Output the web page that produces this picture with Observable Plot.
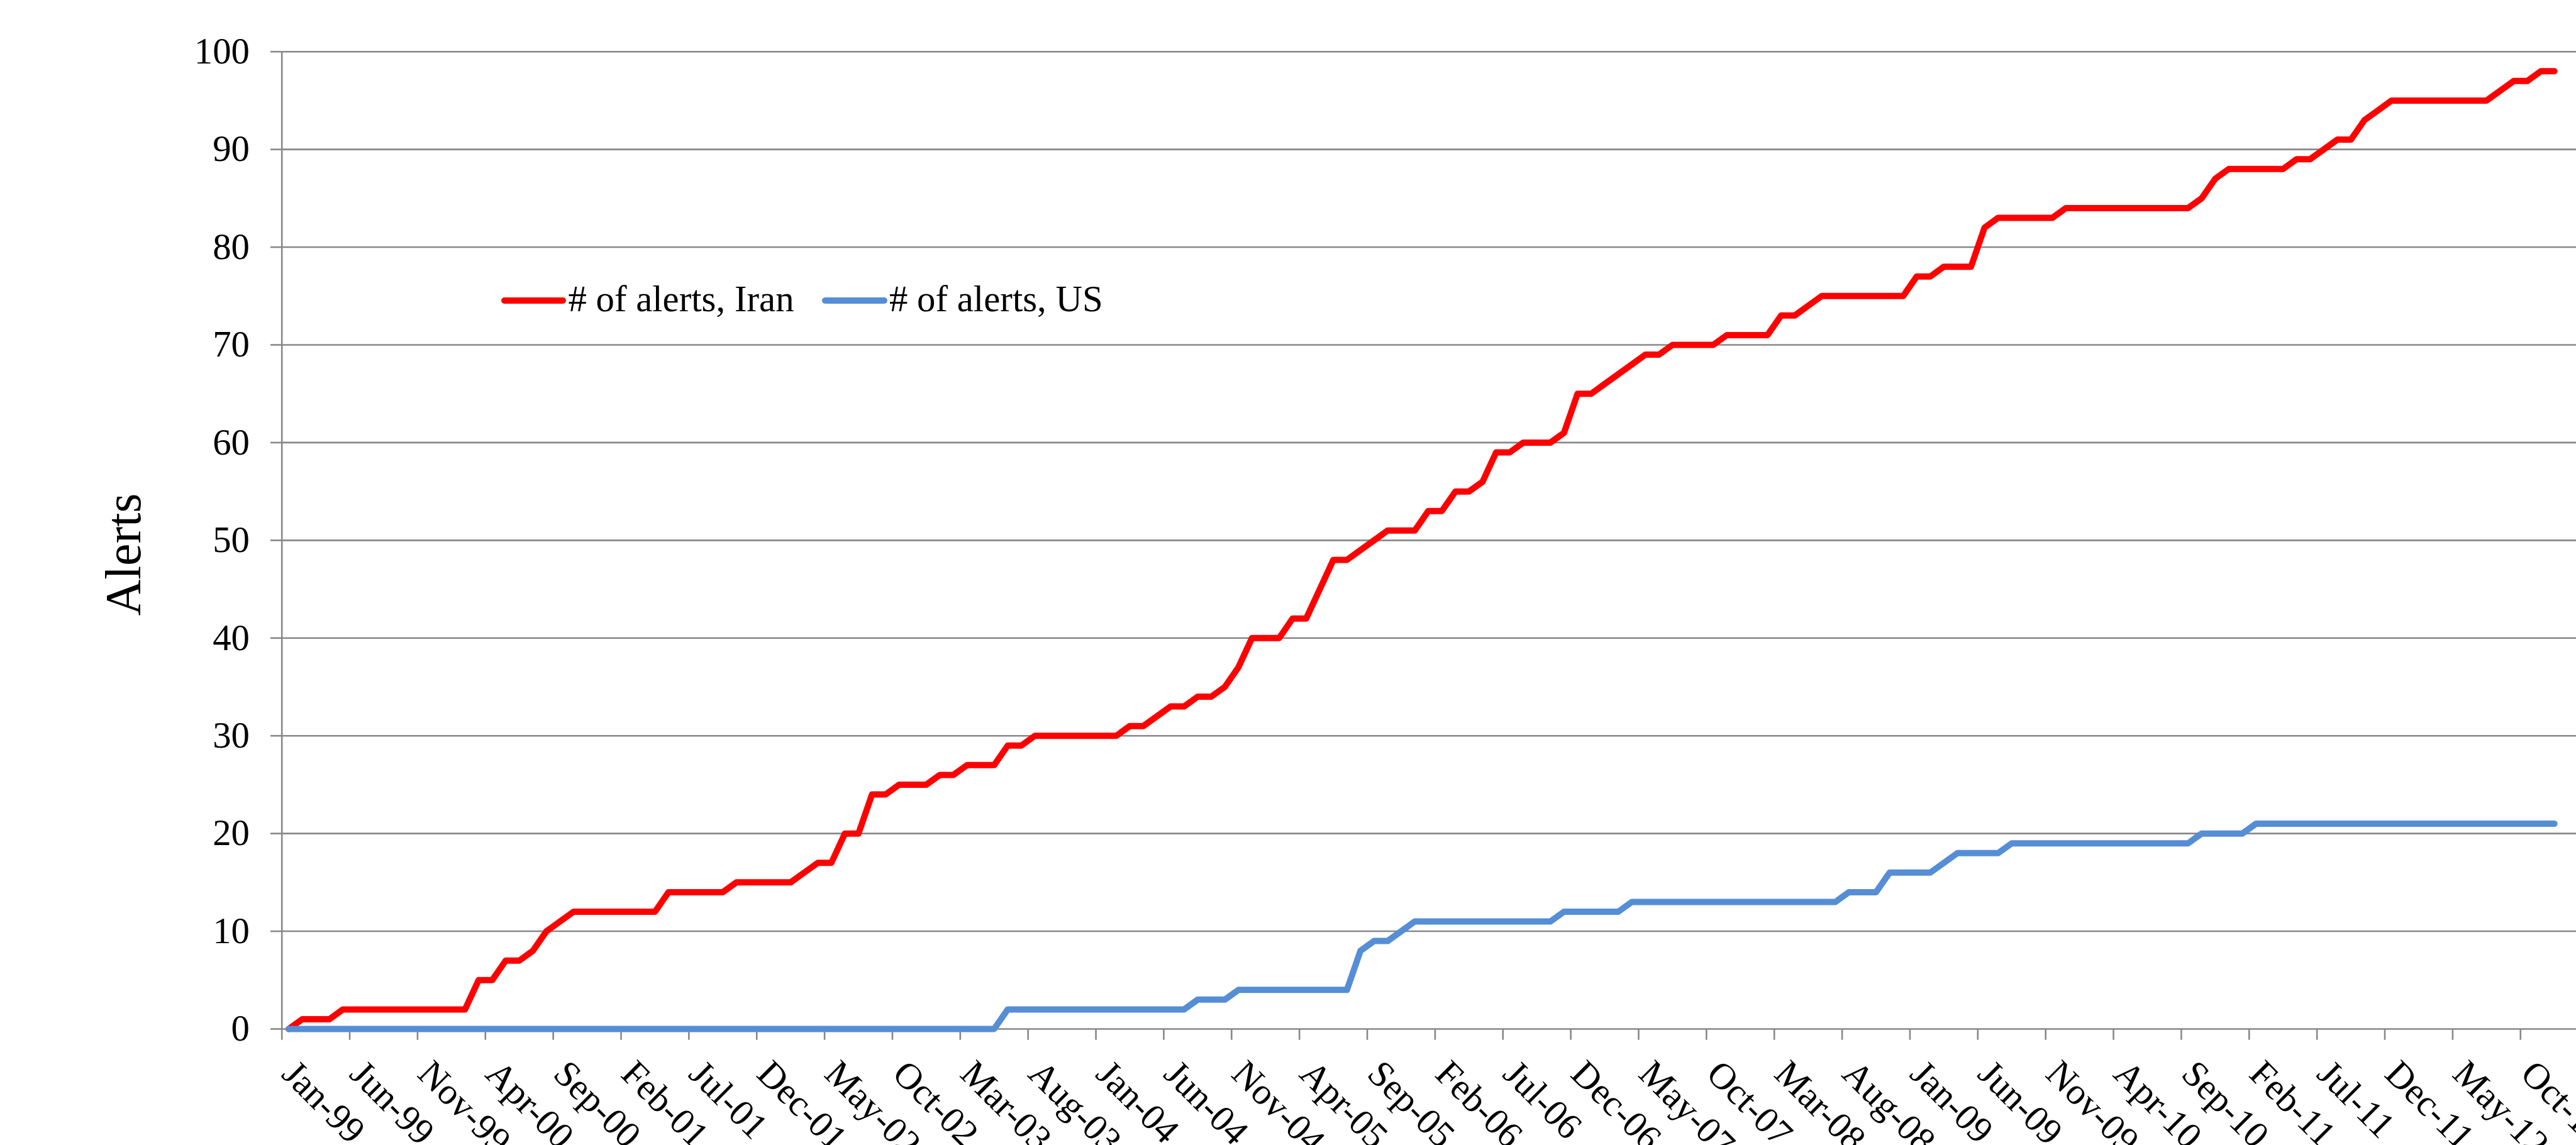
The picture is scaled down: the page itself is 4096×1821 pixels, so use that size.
<!DOCTYPE html>
<html>
<head>
<meta charset="utf-8">
<script src="https://cdn.jsdelivr.net/npm/d3@7"></script>
<script src="https://cdn.jsdelivr.net/npm/@observablehq/plot@0.6"></script>
<style>
  html, body { margin: 0; padding: 0; background: #ffffff; overflow: hidden; }
  #wrap { position: relative; width: 4096px; height: 1821px; font-family: "Liberation Serif", "Times New Roman", serif; }
  .sw { position: absolute; height: 10px; border-radius: 5px; }
  .lt { position: absolute; font-size: 58.8px; line-height: 1; white-space: nowrap; color: #000; }
</style>
</head>
<body>
<div id="wrap"></div>
<script>
// ---- data ----
const startMonth = "Jan-99";
const tickLabels = ["Jan-99","Jun-99","Nov-99","Apr-00","Sep-00","Feb-01","Jul-01","Dec-01","May-02","Oct-02",
  "Mar-03","Aug-03","Jan-04","Jun-04","Nov-04","Apr-05","Sep-05","Feb-06","Jul-06","Dec-06",
  "May-07","Oct-07","Mar-08","Aug-08","Jan-09","Jun-09","Nov-09","Apr-10","Sep-10","Feb-11",
  "Jul-11","Dec-11","May-12","Oct-12"];
const yTicks = [0,10,20,30,40,50,60,70,80,90,100];
const seriesNames = ["# of alerts, Iran", "# of alerts, US"];
const seriesColors = ["#ff0000", "#558ed5"];
const yTitle = "Alerts";
// monthly cumulative counts, Jan-99 .. Dec-12
const iran = [
  0,1,1,1,2,2,2,2,2,2,2,2,
  2,2,5,5,7,7,8,10,11,12,12,12,
  12,12,12,12,14,14,14,14,14,15,15,15,
  15,15,16,17,17,20,20,24,24,25,25,25,
  26,26,27,27,27,29,29,30,30,30,30,30,
  30,30,31,31,32,33,33,34,34,35,37,40,
  40,40,42,42,45,48,48,49,50,51,51,51,
  53,53,55,55,56,59,59,60,60,60,61,65,
  65,66,67,68,69,69,70,70,70,70,71,71,
  71,71,73,73,74,75,75,75,75,75,75,75,
  77,77,78,78,78,82,83,83,83,83,83,84,
  84,84,84,84,84,84,84,84,84,85,87,88,
  88,88,88,88,89,89,90,91,91,93,94,95,
  95,95,95,95,95,95,95,96,97,97,98,98
];
const us = [
  0,0,0,0,0,0,0,0,0,0,0,0,
  0,0,0,0,0,0,0,0,0,0,0,0,
  0,0,0,0,0,0,0,0,0,0,0,0,
  0,0,0,0,0,0,0,0,0,0,0,0,
  0,0,0,0,0,2,2,2,2,2,2,2,
  2,2,2,2,2,2,2,3,3,3,4,4,
  4,4,4,4,4,4,4,8,9,9,10,11,
  11,11,11,11,11,11,11,11,11,11,12,12,
  12,12,12,13,13,13,13,13,13,13,13,13,
  13,13,13,13,13,13,13,14,14,14,16,16,
  16,16,17,18,18,18,18,19,19,19,19,19,
  19,19,19,19,19,19,19,19,19,20,20,20,
  20,21,21,21,21,21,21,21,21,21,21,21,
  21,21,21,21,21,21,21,21,21,21,21,21
];

// ---- build ----
const parseM = d3.utcParse("%b-%y");
const t0 = parseM(startMonth);
const tickPos = tickLabels.map(l => d3.utcMonth.count(t0, parseM(l)));   // category boundaries
const labelPos = tickPos.map(u => u + 0.5);                              // category centres
const labelOf = new Map(labelPos.map((u, i) => [u, tickLabels[i]]));

const rows = [];
[iran, us].forEach((arr, s) => arr.forEach((v, i) => rows.push({series: seriesNames[s], t: i + 0.5, v})));

const W = 4096, H = 1821;
const mL = 447.7, mT = 81.7, mB = H - 1636;
const monthPx = 21.573;
const xMax = (W - mL) / monthPx;
const gray = "#888888";
const font = "'Liberation Serif', 'Times New Roman', serif";

const chart = Plot.plot({
  width: W, height: H,
  marginLeft: mL, marginRight: 0, marginTop: mT, marginBottom: mB,
  style: {fontFamily: font, fontSize: "58.8px", background: "transparent", overflow: "visible"},
  x: {type: "linear", domain: [0, xMax], axis: null},
  y: {domain: [0, 100], axis: null},
  color: {domain: seriesNames, range: seriesColors},
  marks: [
    Plot.ruleY(yTicks, {stroke: gray, strokeWidth: 2.6}),
    Plot.ruleX([0], {stroke: gray, strokeWidth: 2.6}),
    Plot.axisY({ticks: yTicks, tickSize: 17.7, tickPadding: 33.5, stroke: gray, strokeWidth: 2.6, fill: "#000",
      fontSize: 58.8, label: null}),
    Plot.axisX({ticks: tickPos, tickSize: 17.7, tickFormat: () => "", stroke: gray, strokeWidth: 2.6, label: null}),
    Plot.axisX({ticks: labelPos, tickSize: 0, tickPadding: 61, tickRotate: 45, textAnchor: "start", lineAnchor: "middle",
      tickFormat: u => labelOf.get(u), fill: "#000", fontSize: 58.8, label: null}),
    Plot.text([yTitle], {frameAnchor: "left", rotate: -90, textAnchor: "middle", lineAnchor: "bottom",
      dx: -225.3, dy: 22.6, fontSize: 79.7, fill: "#000"}),
    Plot.lineY(rows, {x: "t", y: "v", z: "series", stroke: "series", strokeWidth: 10,
      strokeLinejoin: "round", strokeLinecap: "round"})
  ]
});

const wrap = document.getElementById("wrap");
wrap.appendChild(chart);

// legend (inside plot area, as in the reference)
const legendItems = [
  {sw: 796.8, swW: 103.6, tx: 903.4},
  {sw: 1307.4, swW: 103.4, tx: 1414.0}
];
seriesNames.forEach((name, i) => {
  const it = legendItems[i];
  const s = document.createElement("div");
  s.className = "sw";
  s.style.left = it.sw + "px"; s.style.top = "473px"; s.style.width = it.swW + "px";
  s.style.background = seriesColors[i];
  wrap.appendChild(s);
  const t = document.createElement("div");
  t.className = "lt";
  t.style.left = it.tx + "px"; t.style.top = "447.1px";
  t.textContent = name;
  wrap.appendChild(t);
});
</script>
</body>
</html>
